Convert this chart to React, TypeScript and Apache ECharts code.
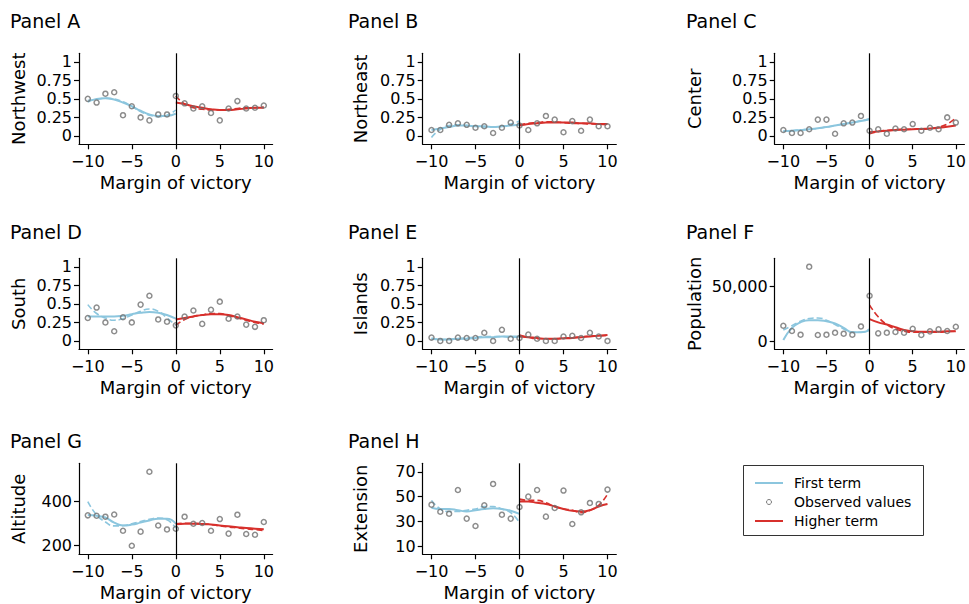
import React, { useEffect, useRef } from 'react'
import * as echarts from 'echarts'

// x positions (margin of victory)
const xObs = [-10, -9, -8, -7, -6, -5, -4, -3, -2, -1, 0, 1, 2, 3, 4, 5, 6, 7, 8, 9, 10]
const xLeft = [-10, -9, -8, -7, -6, -5, -4, -3, -2, -1, 0]
const xRight = [0, 1, 2, 3, 4, 5, 6, 7, 8, 9, 10]
const xTicks = [-10, -5, 0, 5, 10]

const panelTitles = ['Panel A', 'Panel B', 'Panel C', 'Panel D', 'Panel E', 'Panel F', 'Panel G', 'Panel H']
const yNames = ['Northwest', 'Northeast', 'Center', 'South', 'Islands', 'Population', 'Altitude', 'Extension']

const shareTicks = [0, 0.25, 0.5, 0.75, 1]
const populationTicks = [0, 50000]
const altitudeTicks = [200, 400]
const extensionTicks = [10, 30, 50, 70]

// Panel A - Northwest
const obsA = [0.5, 0.45, 0.57, 0.59, 0.28, 0.4, 0.25, 0.21, 0.29, 0.29, 0.54, 0.44, 0.37, 0.4, 0.31, 0.21, 0.37, 0.47, 0.37, 0.38, 0.41]
const firstA = [0.46, 0.5, 0.51, 0.49, 0.45, 0.4, 0.34, 0.29, 0.27, 0.27, 0.3]
const firstDashA = [0.48, 0.49, 0.51, 0.5, 0.46, 0.4, 0.33, 0.28, 0.26, 0.28, 0.35]
const higherA = [0.45, 0.43, 0.4, 0.38, 0.36, 0.35, 0.35, 0.36, 0.37, 0.38, 0.38]
const higherDashA = [0.54, 0.43, 0.38, 0.36, 0.35, 0.35, 0.36, 0.37, 0.38, 0.38, 0.39]

// Panel B - Northeast
const obsB = [0.08, 0.08, 0.15, 0.17, 0.15, 0.11, 0.13, 0.04, 0.11, 0.18, 0.14, 0.08, 0.17, 0.27, 0.22, 0.05, 0.2, 0.07, 0.22, 0.13, 0.13]
const firstB = [0.08, 0.1, 0.12, 0.14, 0.14, 0.13, 0.13, 0.12, 0.13, 0.14, 0.15]
const firstDashB = [-0.02, 0.09, 0.14, 0.15, 0.14, 0.13, 0.12, 0.12, 0.13, 0.16, 0.2]
const higherB = [0.14, 0.16, 0.17, 0.18, 0.18, 0.18, 0.18, 0.17, 0.17, 0.16, 0.16]
const higherDashB = [0.15, 0.17, 0.18, 0.19, 0.19, 0.18, 0.17, 0.17, 0.16, 0.16, 0.15]

// Panel C - Center
const obsC = [0.08, 0.04, 0.04, 0.09, 0.22, 0.22, 0.03, 0.17, 0.18, 0.27, 0.07, 0.09, 0.03, 0.1, 0.09, 0.16, 0.07, 0.11, 0.09, 0.25, 0.18]
const firstC = [0.065, 0.07, 0.08, 0.09, 0.105, 0.12, 0.14, 0.16, 0.18, 0.2, 0.225]
const firstDashC = [0.06, 0.07, 0.08, 0.09, 0.1, 0.12, 0.14, 0.16, 0.18, 0.205, 0.23]
const higherC = [0.05, 0.06, 0.07, 0.08, 0.085, 0.09, 0.095, 0.1, 0.11, 0.125, 0.14]
const higherDashC = [0.03, 0.06, 0.075, 0.085, 0.09, 0.09, 0.09, 0.1, 0.12, 0.16, 0.24]

// Panel D - South
const obsD = [0.31, 0.45, 0.25, 0.13, 0.32, 0.25, 0.49, 0.61, 0.29, 0.26, 0.21, 0.33, 0.41, 0.23, 0.42, 0.53, 0.3, 0.33, 0.22, 0.19, 0.28]
const firstD = [0.33, 0.33, 0.33, 0.33, 0.34, 0.36, 0.38, 0.39, 0.38, 0.35, 0.3]
const firstDashD = [0.49, 0.37, 0.31, 0.28, 0.3, 0.35, 0.4, 0.43, 0.4, 0.31, 0.21]
const higherD = [0.29, 0.31, 0.33, 0.35, 0.36, 0.36, 0.35, 0.32, 0.29, 0.26, 0.24]
const higherDashD = [0.21, 0.29, 0.33, 0.35, 0.37, 0.37, 0.34, 0.31, 0.28, 0.25, 0.23]

// Panel E - Islands
const obsE = [0.045, 0, 0, 0.045, 0.04, 0.04, 0.11, 0, 0.15, 0.03, 0.04, 0.085, 0.03, 0, 0, 0.06, 0.07, 0.04, 0.11, 0.06, 0]
const firstE = [0.03, 0.02, 0.02, 0.03, 0.03, 0.04, 0.05, 0.05, 0.06, 0.06, 0.06]
const firstDashE = [0.04, 0.02, 0.02, 0.03, 0.04, 0.05, 0.06, 0.06, 0.06, 0.05, 0.05]
const higherE = [0.06, 0.05, 0.04, 0.03, 0.03, 0.035, 0.04, 0.05, 0.06, 0.07, 0.08]
const higherDashE = [0.08, 0.05, 0.03, 0.03, 0.03, 0.035, 0.045, 0.055, 0.065, 0.07, 0.075]

// Panel F - Population
const obsF = [13900, 9100, 5800, 67600, 5500, 5800, 7600, 6700, 5800, 13300, 41200, 7000, 7600, 8200, 7600, 11200, 5500, 8800, 10600, 9100, 13000]
const firstF = [1000, 12000, 17000, 19000, 19000, 18000, 16000, 12000, 8000, 8000, 10000]
const firstDashF = [10000, 14000, 18000, 20500, 21000, 19000, 15000, 11000, 8000, 8000, 11000]
const higherF = [20000, 17000, 15000, 12500, 10000, 9000, 8500, 8500, 8500, 9000, 9000]
const higherDashF = [32700, 22000, 15000, 11000, 9000, 8000, 8000, 8000, 8000, 8500, 9000]

// Panel G - Altitude
const obsG = [338, 336, 332, 342, 268, 200, 264, 536, 292, 274, 277, 332, 300, 303, 268, 321, 255, 341, 253, 250, 308]
const firstG = [340, 336, 328, 305, 292, 296, 305, 315, 322, 322, 300]
const firstDashG = [400, 340, 308, 290, 292, 300, 310, 320, 326, 318, 280]
const higherG = [298, 300, 300, 299, 296, 292, 288, 284, 280, 277, 275]
const higherDashG = [300, 302, 302, 300, 296, 290, 285, 281, 277, 273, 268]

// Panel H - Extension
const obsH = [43.5, 37.8, 36.2, 55.4, 32.2, 26.2, 43, 60.3, 35.4, 32.2, 41.6, 50, 55.4, 33.8, 40.8, 54.9, 27.8, 37.3, 44.9, 44.1, 55.7]
const firstH = [41, 40, 40, 39, 38, 39, 40, 40.5, 40, 38.5, 36]
const firstDashH = [47, 40, 38, 38, 39, 40, 42, 42, 40, 37, 29]
const higherH = [46, 46, 45, 44, 42, 40, 38.5, 38, 39, 42, 44]
const higherDashH = [48, 47, 47, 45, 42, 40, 39, 37, 39, 43, 52]

const obsAll = [obsA, obsB, obsC, obsD, obsE, obsF, obsG, obsH]
const firstAll = [firstA, firstB, firstC, firstD, firstE, firstF, firstG, firstH]
const firstDashAll = [firstDashA, firstDashB, firstDashC, firstDashD, firstDashE, firstDashF, firstDashG, firstDashH]
const higherAll = [higherA, higherB, higherC, higherD, higherE, higherF, higherG, higherH]
const higherDashAll = [higherDashA, higherDashB, higherDashC, higherDashD, higherDashE, higherDashF, higherDashG, higherDashH]
const yTicksAll = [shareTicks, shareTicks, shareTicks, shareTicks, shareTicks, populationTicks, altitudeTicks, extensionTicks]
const yRanges = [
  [-0.113, 1.115], [-0.113, 1.115], [-0.113, 1.115],
  [-0.113, 1.115], [-0.113, 1.115], [-7500, 75200],
  [161, 574.5], [3.3, 77],
]

const BLUE = '#8cc6de'
const RED = '#d7302c'
const FONT = 'DejaVu Sans'

function App() {
  const chartRef = useRef(null)

  useEffect(() => {
    document.body.style.margin = '0'
    const chart = echarts.init(chartRef.current, null, { renderer: 'svg' })

    const colLeft = [79, 422.7, 774.7]
    const rowTop = [53.3, 258.3, 463.3]
    const titleTop = [11, 222.7, 431]
    const titleLeft = [10, 348, 686]
    const nameGap = [52, 53, 71]

    const grid: any[] = []
    const xAxis: any[] = []
    const yAxis: any[] = []
    const title: any[] = []
    const series: any[] = []

    panelTitles.forEach((t, i) => {
      const r = Math.floor(i / 3)
      const c = i % 3
      grid.push({ left: colLeft[c], top: rowTop[r], width: 193.6, height: 91 })
      title.push({
        text: t,
        left: titleLeft[c],
        top: titleTop[r],
        padding: 0,
        textStyle: { fontFamily: FONT, fontSize: 19, fontWeight: 'normal', color: '#000' },
      })
      xAxis.push({
        type: 'value',
        gridIndex: i,
        min: -11,
        max: 11,
        name: 'Margin of victory',
        nameLocation: 'middle',
        nameGap: 29,
        nameTextStyle: { fontFamily: FONT, fontSize: 18, color: '#000' },
        axisLine: { show: true, onZero: false, lineStyle: { color: '#000', width: 1.2 } },
        axisTick: { show: true, length: 5, customValues: xTicks, lineStyle: { color: '#000', width: 1.2 } },
        axisLabel: {
          customValues: xTicks,
          margin: 9,
          fontFamily: FONT,
          fontSize: 16,
          color: '#000',
          formatter: (v: number) => (v < 0 ? '\u2212' + Math.abs(v) : String(v)),
        },
        splitLine: { show: false },
      })
      yAxis.push({
        type: 'value',
        gridIndex: i,
        min: yRanges[i][0],
        max: yRanges[i][1],
        name: yNames[i],
        nameLocation: 'middle',
        nameGap: nameGap[c],
        nameTextStyle: { fontFamily: FONT, fontSize: 18, color: '#000' },
        axisLine: { show: true, onZero: false, lineStyle: { color: '#000', width: 1.2 } },
        axisTick: { show: true, length: 5, customValues: yTicksAll[i], lineStyle: { color: '#000', width: 1.2 } },
        axisLabel: {
          customValues: yTicksAll[i],
          margin: 7,
          fontFamily: FONT,
          fontSize: 16,
          color: '#000',
          formatter: (v: number) => v.toLocaleString('en-US'),
        },
        splitLine: { show: false },
      })

      series.push({
        type: 'line',
        name: 'First term',
        xAxisIndex: i,
        yAxisIndex: i,
        data: xLeft.map((x, k) => [x, firstAll[i][k]]),
        smooth: 0.5,
        symbol: 'none',
        lineStyle: { color: BLUE, width: 2 },
        z: 2,
      })
      series.push({
        type: 'line',
        name: 'First term (dashed)',
        xAxisIndex: i,
        yAxisIndex: i,
        data: xLeft.map((x, k) => [x, firstDashAll[i][k]]),
        smooth: 0.5,
        symbol: 'none',
        lineStyle: { color: BLUE, width: 1.6, type: [6, 3] },
        z: 2,
      })
      series.push({
        type: 'line',
        name: 'Higher term',
        xAxisIndex: i,
        yAxisIndex: i,
        data: xRight.map((x, k) => [x, higherAll[i][k]]),
        smooth: 0.5,
        symbol: 'none',
        lineStyle: { color: RED, width: 2 },
        z: 2,
      })
      series.push({
        type: 'line',
        name: 'Higher term (dashed)',
        xAxisIndex: i,
        yAxisIndex: i,
        data: xRight.map((x, k) => [x, higherDashAll[i][k]]),
        smooth: 0.5,
        symbol: 'none',
        lineStyle: { color: RED, width: 1.6, type: [6, 3] },
        z: 2,
      })
      series.push({
        type: 'scatter',
        name: 'Observed values',
        xAxisIndex: i,
        yAxisIndex: i,
        data: xObs.map((x, k) => [x, obsAll[i][k]]),
        symbol: 'circle',
        symbolSize: 5,
        itemStyle: { color: 'rgba(255,255,255,0)', borderColor: '#6f6f6f', borderWidth: 1.5 },
        z: 3,
        markLine: {
          silent: true,
          symbol: 'none',
          label: { show: false },
          lineStyle: { color: '#000', width: 1.2, type: 'solid' },
          data: [{ xAxis: 0 }],
        },
      })
    })

    const legendText = { fontFamily: FONT, fontSize: 14, fill: '#000', verticalAlign: 'middle' }
    const graphic = [
      {
        type: 'rect',
        shape: { x: 743.5, y: 465.5, width: 180, height: 70 },
        style: { fill: '#fff', stroke: '#333', lineWidth: 1 },
      },
      { type: 'line', shape: { x1: 755, y1: 483, x2: 783, y2: 483 }, style: { stroke: BLUE, lineWidth: 2 } },
      { type: 'circle', shape: { cx: 769, cy: 502, r: 2.5 }, style: { fill: 'none', stroke: '#7a7a7a', lineWidth: 1 } },
      { type: 'line', shape: { x1: 755, y1: 521, x2: 783, y2: 521 }, style: { stroke: RED, lineWidth: 2 } },
      { type: 'text', x: 794, y: 483, style: { ...legendText, text: 'First term' } },
      { type: 'text', x: 794, y: 502, style: { ...legendText, text: 'Observed values' } },
      { type: 'text', x: 794, y: 521, style: { ...legendText, text: 'Higher term' } },
    ]

    chart.setOption({
      animation: false,
      backgroundColor: '#fff',
      textStyle: { fontFamily: FONT },
      title,
      grid,
      xAxis,
      yAxis,
      series,
      graphic,
    })

    return () => {
      chart.dispose()
    }
  }, [])

  return <div ref={chartRef} style={{ width: '969px', height: '604px' }}></div>
}

export default App
